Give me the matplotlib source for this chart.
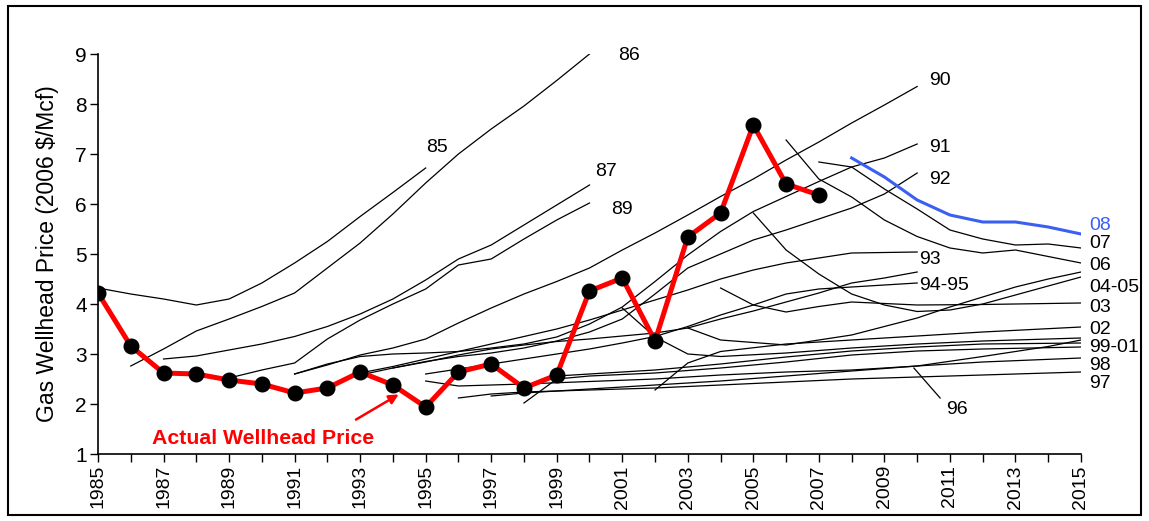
import matplotlib
matplotlib.use("Agg")
import matplotlib.pyplot as plt
from matplotlib.patches import Rectangle

# ---------------- data ----------------
actual_years = list(range(1985, 2008))
actual_price = [4.22, 3.16, 2.62, 2.60, 2.48, 2.40, 2.22, 2.32, 2.64, 2.38, 1.94,
                2.64, 2.80, 2.32, 2.58, 4.26, 4.52, 3.26, 5.34, 5.82, 7.58, 6.40, 6.18]

f85_x = list(range(1985, 1996))
f85_y = [4.32, 4.20, 4.10, 3.98, 4.10, 4.42, 4.82, 5.25, 5.75, 6.23, 6.72]
f86_x = list(range(1986, 2001))
f86_y = [2.76, 3.10, 3.46, 3.70, 3.95, 4.22, 4.72, 5.22, 5.80, 6.42, 7.00, 7.50, 7.96, 8.47, 9.00]
f87_x = list(range(1987, 2001))
f87_y = [2.90, 2.96, 3.08, 3.20, 3.35, 3.55, 3.80, 4.10, 4.48, 4.90, 5.18, 5.58, 5.98, 6.38]
f89_x = list(range(1989, 2001))
f89_y = [2.52, 2.68, 2.82, 3.30, 3.68, 4.00, 4.30, 4.78, 4.90, 5.30, 5.68, 6.02]
f90_x = list(range(1991, 2011))
f90_y = [2.60, 2.78, 2.98, 3.12, 3.30, 3.62, 3.92, 4.20, 4.45, 4.72, 5.08, 5.42, 5.78,
         6.15, 6.50, 6.88, 7.24, 7.62, 7.98, 8.35]
f91_x = list(range(1991, 2011))
f91_y = [2.60, 2.80, 2.95, 3.00, 3.02, 3.05, 3.12, 3.20, 3.34, 3.60, 3.94, 4.45, 4.98,
         5.45, 5.85, 6.15, 6.45, 6.74, 6.92, 7.20]
f92_x = list(range(1993, 2011))
f92_y = [2.58, 2.72, 2.85, 2.95, 3.02, 3.12, 3.26, 3.44, 3.70, 4.20, 4.72, 5.00, 5.28,
         5.48, 5.70, 5.92, 6.20, 6.62]
f93_x = list(range(1993, 2011))
f93_y = [2.62, 2.75, 2.90, 3.05, 3.20, 3.35, 3.50, 3.68, 3.88, 4.08, 4.28, 4.50, 4.68,
         4.82, 4.92, 5.02, 5.03, 5.04]
f94_x = list(range(1994, 2011))
f94_y = [2.72, 2.84, 2.98, 3.10, 3.18, 3.25, 3.30, 3.36, 3.42, 3.52, 3.70, 3.86, 4.04,
         4.22, 4.42, 4.52, 4.64]
f95_x = list(range(1995, 2011))
f95_y = [2.60, 2.70, 2.80, 2.90, 3.00, 3.10, 3.22, 3.35, 3.55, 3.78, 3.98, 4.20, 4.30,
         4.34, 4.38, 4.42]
f96_x = [1995, 1996, 1998, 2000, 2002, 2004, 2006, 2008, 2010, 2012, 2014, 2015]
f96_y = [2.46, 2.36, 2.40, 2.45, 2.50, 2.58, 2.64, 2.68, 2.76, 2.95, 3.15, 3.28]
f97_x = [1996, 1997, 1998, 2000, 2002, 2004, 2006, 2008, 2010, 2012, 2015]
f97_y = [2.12, 2.20, 2.24, 2.28, 2.32, 2.38, 2.44, 2.50, 2.54, 2.58, 2.64]
f98_x = [1997, 1998, 2000, 2002, 2004, 2006, 2008, 2010, 2012, 2015]
f98_y = [2.16, 2.22, 2.30, 2.38, 2.46, 2.56, 2.66, 2.76, 2.84, 2.92]
f99_x = [1998, 1999, 2000, 2002, 2004, 2006, 2008, 2010, 2012, 2015]
f99_y = [2.02, 2.50, 2.56, 2.62, 2.72, 2.84, 2.98, 3.06, 3.10, 3.14]
f00_x = [1999, 2000, 2002, 2004, 2006, 2008, 2010, 2012, 2015]
f00_y = [2.56, 2.60, 2.68, 2.80, 2.94, 3.06, 3.14, 3.20, 3.22]
f01_x = [2001, 2002, 2003, 2004, 2006, 2008, 2010, 2012, 2015]
f01_y = [3.92, 3.34, 3.00, 2.95, 3.02, 3.12, 3.20, 3.26, 3.32]
f02_x = [2002, 2003, 2004, 2006, 2008, 2010, 2012, 2015]
f02_y = [2.28, 2.82, 3.05, 3.20, 3.28, 3.36, 3.44, 3.54]
f03_x = [2004, 2005, 2006, 2007, 2008, 2010, 2012, 2015]
f03_y = [4.32, 3.98, 3.84, 3.95, 4.04, 3.98, 3.99, 4.02]
f04_x = [2003, 2004, 2006, 2008, 2009, 2010, 2011, 2012, 2013, 2014, 2015]
f04_y = [3.52, 3.28, 3.18, 3.38, 3.55, 3.72, 3.94, 4.14, 4.34, 4.50, 4.64]
f05_x = list(range(2005, 2016))
f05_y = [5.82, 5.08, 4.60, 4.20, 3.98, 3.85, 3.88, 4.00, 4.18, 4.36, 4.54]
f06_x = list(range(2006, 2016))
f06_y = [7.28, 6.50, 6.14, 5.68, 5.35, 5.12, 5.02, 5.08, 4.95, 4.82]
f07_x = list(range(2007, 2016))
f07_y = [6.84, 6.74, 6.30, 5.90, 5.48, 5.30, 5.18, 5.20, 5.12]
f08_x = list(range(2008, 2016))
f08_y = [6.92, 6.54, 6.08, 5.78, 5.64, 5.64, 5.54, 5.40]

forecasts_black = [(f85_x, f85_y), (f86_x, f86_y), (f87_x, f87_y), (f89_x, f89_y),
                   (f90_x, f90_y), (f91_x, f91_y), (f92_x, f92_y), (f93_x, f93_y),
                   (f94_x, f94_y), (f95_x, f95_y), (f96_x, f96_y), (f97_x, f97_y),
                   (f98_x, f98_y), (f99_x, f99_y), (f00_x, f00_y), (f01_x, f01_y),
                   (f02_x, f02_y), (f03_x, f03_y), (f04_x, f04_y), (f05_x, f05_y),
                   (f06_x, f06_y), (f07_x, f07_y)]

# labels: (text, x, y, ha)
line_labels = [("85", 1995.35, 7.14, "center"), ("86", 2001.2, 8.96, "center"),
               ("87", 2000.5, 6.66, "center"), ("89", 2001.0, 5.88, "center"),
               ("90", 2010.7, 8.46, "center"), ("91", 2010.7, 7.14, "center"),
               ("92", 2010.7, 6.50, "center"), ("93", 2010.4, 4.88, "center"),
               ("94-95", 2010.05, 4.38, "left"), ("96", 2011.2, 1.88, "center"),
               ("07", 2015.25, 5.22, "left"), ("06", 2015.25, 4.78, "left"),
               ("04-05", 2015.25, 4.34, "left"), ("03", 2015.25, 3.94, "left"),
               ("02", 2015.25, 3.50, "left"), ("99-01", 2015.25, 3.12, "left"),
               ("98", 2015.25, 2.78, "left"), ("97", 2015.25, 2.42, "left")]

# ---------------- figure ----------------
W, H = 1149, 521
FONT = "Liberation Sans"
fig = plt.figure(figsize=(W / 100, H / 100), dpi=100)
ax = fig.add_axes([98 / W, (H - 454) / H, (1081 - 98) / W, (454 - 54) / H])

for xs, ys in forecasts_black:
    ax.plot(xs, ys, color="black", lw=0.9, zorder=2)
# leader line for 96
ax.plot([2009.9, 2010.7], [2.72, 2.12], color="black", lw=0.9)

ax.plot(f08_x, f08_y, color="#3b5ff0", lw=2.2, zorder=3)
ax.plot(actual_years, actual_price, color="#ff0000", lw=3.6, zorder=4)
ax.plot(actual_years, actual_price, "o", color="black", ms=10.5, zorder=5)

for txt, x, y, ha in line_labels:
    ax.text(x, y, txt, ha=ha, va="center", fontsize=14, family=FONT)
ax.text(2015.25, 5.58, "08", ha="left", va="center", fontsize=14,
        color="#3b5ff0", family=FONT)

ax.text(1986.65, 1.32, "Actual Wellhead Price", color="#ff0000", fontsize=15.3,
        fontweight="bold", family=FONT, ha="left", va="center")
ax.annotate("", xy=(1994.25, 2.22), xytext=(1992.8, 1.66),
            arrowprops=dict(arrowstyle="-|>", color="#ff0000", lw=1.8,
                            mutation_scale=14))

ax.set_xlim(1985, 2015)
ax.set_ylim(1, 9)
ax.set_xticks(range(1985, 2016))
ax.set_xticklabels([str(y) if (y - 1985) % 2 == 0 else "" for y in range(1985, 2016)],
                   rotation=90, fontsize=14, family=FONT)
ax.set_yticks(range(1, 10))
ax.set_yticklabels([str(v) for v in range(1, 10)], fontsize=15, family=FONT)
ax.tick_params(direction="out", length=6, width=1, pad=2)
for s in ("top", "right"):
    ax.spines[s].set_visible(False)
for s in ("left", "bottom"):
    ax.spines[s].set_linewidth(1.2)
ax.set_ylabel("Gas Wellhead Price (2006 $/Mcf)", fontsize=16.5, family=FONT,
              labelpad=12)

fig.patches.append(Rectangle((8 / W, 6 / H), (1141 - 8) / W, (515 - 6) / H,
                             transform=fig.transFigure, fill=False,
                             edgecolor="black", lw=1.5))

fig.savefig("out.png", dpi=100)
